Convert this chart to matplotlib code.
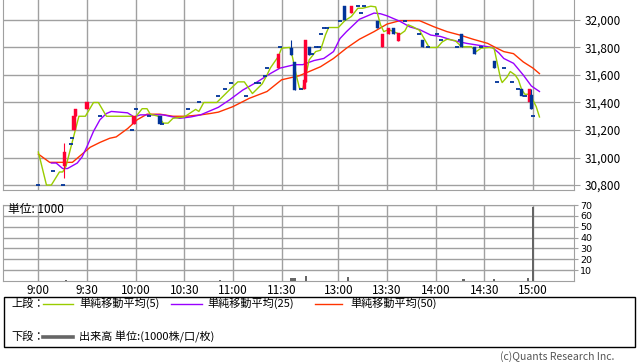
import matplotlib
matplotlib.use('Agg')
import matplotlib.pyplot as plt
from matplotlib.lines import Line2D
from matplotlib.patches import Rectangle

plt.rcParams['font.family'] = ['Noto Sans CJK JP', 'DejaVu Sans']

# --- data --------------------------------------------------------------------
tick_labels = ["9:00", "9:30", "10:00", "10:30", "11:00", "11:30",
               "13:00", "13:30", "14:00", "14:30", "15:00"]
price_ticks = [30800, 31000, 31200, 31400, 31600, 31800, 32000]
volume_ticks = [10, 20, 30, 40, 50, 60, 70]

# simple moving average (5)
ma5_times = ["9:00", "9:05", "9:08", "9:13", "9:15", "9:17", "9:25", "9:29", "9:34", "9:37",
             "9:42", "9:58", "9:59", "10:04", "10:07", "10:09", "10:14", "10:17", "10:20", "10:23",
             "10:30", "10:37", "10:39", "10:42", "10:50", "10:59", "11:03", "11:07", "11:12", "11:18",
             "11:21", "11:23", "11:28", "11:30", "12:30", "12:31", "12:34", "12:36", "12:38", "12:40",
             "12:42", "12:46", "12:49", "12:52", "12:54", "13:00", "13:04", "13:08", "13:12", "13:15",
             "13:20", "13:23", "13:26", "13:28", "13:31", "13:34", "13:38", "13:41", "13:43", "13:46",
             "13:50", "13:56", "14:01", "14:04", "14:07", "14:12", "14:16", "14:22", "14:25", "14:28",
             "14:33", "14:36", "14:38", "14:40", "14:41", "14:44", "14:46", "14:49", "14:51", "14:53",
             "14:55", "14:58", "14:59", "15:02", "15:04"]
ma5_values = [31040, 30800, 30800, 30895, 30895, 30935, 31300, 31300, 31400, 31400,
              31300, 31300, 31280, 31355, 31355, 31315, 31300, 31250, 31250, 31285,
              31295, 31350, 31335, 31400, 31400, 31505, 31550, 31550, 31465, 31535,
              31600, 31650, 31735, 31795, 31800, 31770, 31600, 31505, 31495, 31600,
              31710, 31770, 31780, 31890, 31945, 31945, 31995, 32025, 32085, 32085,
              32100, 32095, 31965, 31915, 31930, 31915, 31895, 31920, 31965, 31950,
              31925, 31800, 31800, 31840, 31860, 31850, 31805, 31805, 31770, 31795,
              31800, 31795, 31685, 31575, 31545, 31585, 31625, 31600, 31565, 31495,
              31460, 31460, 31440, 31370, 31295]

# simple moving average (25)
ma25_times = ["9:08", "9:11", "9:15", "9:18", "9:21", "9:24", "9:27", "9:30", "9:34", "9:38",
              "9:42", "9:45", "9:55", "9:59", "10:03", "10:17", "10:23", "10:27", "10:34", "10:40",
              "10:46", "10:51", "10:58", "11:06", "11:15", "11:23", "11:29", "12:33", "12:38", "12:45",
              "12:51", "12:57", "13:01", "13:05", "13:13", "13:22", "13:26", "13:30", "13:38", "13:44",
              "13:50", "13:57", "14:03", "14:11", "14:19", "14:27", "14:35", "14:39", "14:42", "14:48",
              "14:54", "14:59", "15:04"]
ma25_values = [30960, 30960, 30920, 30920, 30940, 30960, 31005, 31080, 31190, 31275,
               31320, 31335, 31325, 31295, 31310, 31310, 31295, 31285, 31295, 31310,
               31340, 31365, 31420, 31490, 31550, 31610, 31650, 31675, 31675, 31705,
               31720, 31770, 31865, 31915, 32005, 32050, 32045, 32030, 31990, 31950,
               31930, 31890, 31880, 31850, 31830, 31815, 31800, 31760, 31720, 31685,
               31600, 31520, 31480]

# simple moving average (50)
ma50_times = ["9:00", "9:07", "9:14", "9:21", "9:26", "9:32", "9:38", "9:44", "9:48", "9:55",
              "10:01", "10:07", "10:15", "10:23", "10:31", "10:40", "10:46", "10:51", "11:00", "11:10",
              "11:21", "11:30", "12:36", "12:42", "12:49", "12:57", "13:05", "13:13", "13:22", "13:30",
              "13:38", "13:50", "13:59", "14:07", "14:15", "14:23", "14:32", "14:36", "14:42", "14:48",
              "14:54", "15:00", "15:04"]
ma50_values = [31025, 30965, 30965, 30965, 31015, 31075, 31110, 31140, 31150, 31210,
               31275, 31315, 31315, 31300, 31300, 31310, 31320, 31330, 31370, 31430,
               31480, 31565, 31595, 31625, 31660, 31720, 31795, 31860, 31915, 31970,
               31995, 31995, 31950, 31915, 31890, 31860, 31830, 31805, 31770, 31755,
               31695, 31650, 31610]

# candles
candle_times = ["9:00", "9:09", "9:15", "9:16", "9:20", "9:21", "9:22", "9:23", "9:30", "9:38",
                "9:58", "9:59", "10:00", "10:08", "10:15", "10:16", "10:32", "10:39", "10:51", "10:55",
                "10:59", "11:08", "11:14", "11:16", "11:20", "11:21", "11:28", "11:29", "12:31", "12:33",
                "12:37", "12:39", "12:40", "12:42", "12:44", "12:46", "12:48", "12:49", "12:51", "12:53",
                "13:01", "13:04", "13:08", "13:12", "13:14", "13:16", "13:24", "13:27", "13:31", "13:34",
                "13:37", "13:41", "13:50", "13:52", "13:55", "14:01", "14:03", "14:13", "14:15", "14:16",
                "14:24", "14:28", "14:36", "14:38", "14:42", "14:47", "14:51", "14:53", "14:55", "14:58",
                "14:59", "15:00"]
candle_open = [30800, 30900, 30800, 30935, 31100, 31145, 31200, 31300, 31350, 31300,
               31200, 31245, 31350, 31300, 31300, 31245, 31350, 31400, 31450, 31495,
               31545, 31450, 31545, 31545, 31595, 31650, 31650, 31800, 31795, 31695,
               31495, 31495, 31550, 31800, 31755, 31800, 31800, 31900, 31945, 31945,
               31995, 32100, 32050, 32100, 32050, 32100, 31995, 31800, 31895, 31945,
               31850, 31995, 31900, 31855, 31800, 31895, 31855, 31800, 31855, 31900,
               31800, 31800, 31705, 31550, 31650, 31550, 31495, 31495, 31445, 31400,
               31455, 31300]
candle_high = [30800, 30900, 30800, 31105, 31100, 31145, 31300, 31355, 31400, 31300,
               31200, 31305, 31350, 31300, 31300, 31245, 31350, 31400, 31450, 31495,
               31545, 31450, 31545, 31545, 31595, 31650, 31755, 31800, 31855, 31695,
               31495, 31565, 31855, 31800, 31755, 31800, 31800, 31900, 31945, 31945,
               31995, 32100, 32100, 32100, 32050, 32100, 31995, 31895, 31945, 31945,
               31905, 31995, 31900, 31855, 31800, 31895, 31855, 31800, 31855, 31900,
               31800, 31800, 31705, 31550, 31650, 31550, 31495, 31495, 31445, 31495,
               31495, 31300]
candle_low = [30800, 30900, 30800, 30850, 31100, 31145, 31200, 31300, 31350, 31300,
              31200, 31245, 31350, 31300, 31245, 31245, 31350, 31400, 31450, 31495,
              31545, 31450, 31545, 31545, 31595, 31650, 31650, 31800, 31745, 31490,
              31495, 31495, 31550, 31745, 31755, 31800, 31800, 31900, 31945, 31945,
              31995, 32000, 32050, 32100, 32050, 32100, 31945, 31800, 31895, 31895,
              31850, 31995, 31900, 31800, 31800, 31895, 31855, 31800, 31855, 31800,
              31755, 31800, 31650, 31550, 31650, 31550, 31495, 31445, 31445, 31400,
              31350, 31300]
candle_close = [30800, 30900, 30800, 31040, 31100, 31145, 31300, 31355, 31400, 31300,
                31200, 31305, 31350, 31300, 31245, 31245, 31350, 31400, 31450, 31495,
                31545, 31450, 31545, 31545, 31595, 31650, 31755, 31800, 31745, 31490,
                31495, 31565, 31855, 31745, 31755, 31800, 31800, 31900, 31945, 31945,
                31995, 32000, 32100, 32100, 32050, 32100, 31945, 31895, 31945, 31895,
                31905, 31995, 31900, 31800, 31800, 31895, 31855, 31800, 31855, 31800,
                31755, 31800, 31650, 31550, 31650, 31550, 31495, 31445, 31445, 31495,
                31350, 31300]

# volume (unit: 1000)
volume_times = ["9:17", "10:52", "12:31", "12:33", "12:40", "13:06", "14:17", "14:36", "14:57", "15:00"]
volume_values = [1, 1, 2.5, 3, 4.5, 4, 1.5, 1.5, 3, 68]


def to_pos(t):
    # minutes from 9:00, lunch break squeezed out (11:30 -> 12:30 is one bar apart)
    h, m = map(int, t.split(':'))
    mins = (h - 9) * 60 + m
    return mins if mins <= 150 else mins - 55


W, H = 638, 362
fig = plt.figure(figsize=(W / 100, H / 100), dpi=100)


def fx(px):
    return px / W


def fy(py):
    return 1 - py / H


grid_c = '#a0a0a0'
xlim = (-21.8, 330.3)

ax = fig.add_axes([fx(3), fy(190), fx(574) - fx(3), fy(0) - fy(190)])
axv = fig.add_axes([fx(3), fy(281), fx(574) - fx(3), fy(205) - fy(281)])

# --- price panel ---
ax.plot([to_pos(t) for t in ma50_times], ma50_values, color='#ff3300', lw=1.0, zorder=3)
ax.plot([to_pos(t) for t in ma25_times], ma25_values, color='#9900ff', lw=1.0, zorder=3)
ax.plot([to_pos(t) for t in ma5_times], ma5_values, color='#99cc00', lw=1.0, zorder=3)

cw = 1.9    # body width (minutes)
dw = 2.5    # doji dash width
for t, o, hi, lo, c in zip(candle_times, candle_open, candle_high, candle_low, candle_close):
    x = to_pos(t)
    col = '#ff0033' if c > o else '#003399'
    if hi > lo:
        ax.vlines(x, lo, hi, color=col, lw=0.8, zorder=4)
    if c == o:
        ax.hlines(o, x - dw / 2, x + dw / 2, color=col, lw=1.3, zorder=4)
    else:
        ax.bar(x, abs(c - o), bottom=min(o, c), width=cw, color=col, edgecolor=col,
               linewidth=0.3, zorder=4)

ax.set_xlim(*xlim)
ax.set_ylim(30764, 32145)
ax.set_xticks([to_pos(t) for t in tick_labels])
ax.set_xticklabels([])
ax.set_yticks(price_ticks)
ax.set_yticklabels([f"{v:,}" for v in price_ticks])
ax.yaxis.tick_right()
ax.tick_params(axis='y', length=4.5, width=0.8, color=grid_c, pad=3, labelsize=8.5)
ax.tick_params(axis='x', length=0)
ax.grid(True, color=grid_c, lw=1.0)
ax.set_axisbelow(True)
for s in ['left', 'right', 'bottom']:
    ax.spines[s].set_color(grid_c)
ax.spines['top'].set_visible(False)

# --- volume panel ---
axv.bar([to_pos(t) for t in volume_times], volume_values, width=1.6, color='#666666', zorder=3)
axv.set_xlim(*xlim)
axv.set_ylim(0, 70)
axv.set_xticks([to_pos(t) for t in tick_labels])
axv.set_xticklabels(tick_labels)
axv.set_yticks(volume_ticks)
axv.set_yticklabels([str(v) for v in volume_ticks], family='DejaVu Sans', fontsize=6.8)
axv.yaxis.tick_right()
axv.tick_params(axis='y', length=3, width=0.8, color=grid_c, pad=1.5)
axv.tick_params(axis='x', length=0, pad=2, labelsize=8.5)
axv.grid(True, color=grid_c, lw=1.0)
axv.set_axisbelow(True)
for s in axv.spines.values():
    s.set_color(grid_c)
axv.text(fx(8), fy(210), "単位: 1000", transform=fig.transFigure, fontsize=8.5,
         va='center', ha='left')

# --- legend box ---
fig.add_artist(Rectangle((fx(3.5), fy(347)), fx(635) - fx(3.5), fy(296.5) - fy(347),
                         transform=fig.transFigure, fill=False, edgecolor='black', lw=1.0))
y1, y2 = 303.5, 337
fig.text(fx(11), fy(y1), "上段：", fontsize=8, va='center', ha='left')
fig.text(fx(11), fy(y2), "下段：", fontsize=8, va='center', ha='left')
legend_items = [(43, 73, 79, '#99cc00', "単純移動平均(5)"),
                (171, 202, 207, '#9900ff', "単純移動平均(25)"),
                (315, 342, 350, '#ff3300', "単純移動平均(50)")]
for x0, x1, xt, col, label in legend_items:
    fig.add_artist(Line2D([fx(x0), fx(x1)], [fy(y1), fy(y1)], color=col, lw=1.0,
                          transform=fig.transFigure))
    fig.text(fx(xt), fy(y1), label, fontsize=8, va='center', ha='left')
fig.add_artist(Line2D([fx(43), fx(73)], [fy(y2), fy(y2)], color='#666666', lw=2.6,
                      transform=fig.transFigure))
fig.text(fx(79), fy(y2), "出来高 単位:(1000株/口/枚)", fontsize=8, va='center', ha='left')

fig.text(fx(500), fy(357), "(c)Quants Research Inc.", fontsize=7.5, color='#555555',
         va='center', ha='left')

fig.savefig('out.png', dpi=100)
